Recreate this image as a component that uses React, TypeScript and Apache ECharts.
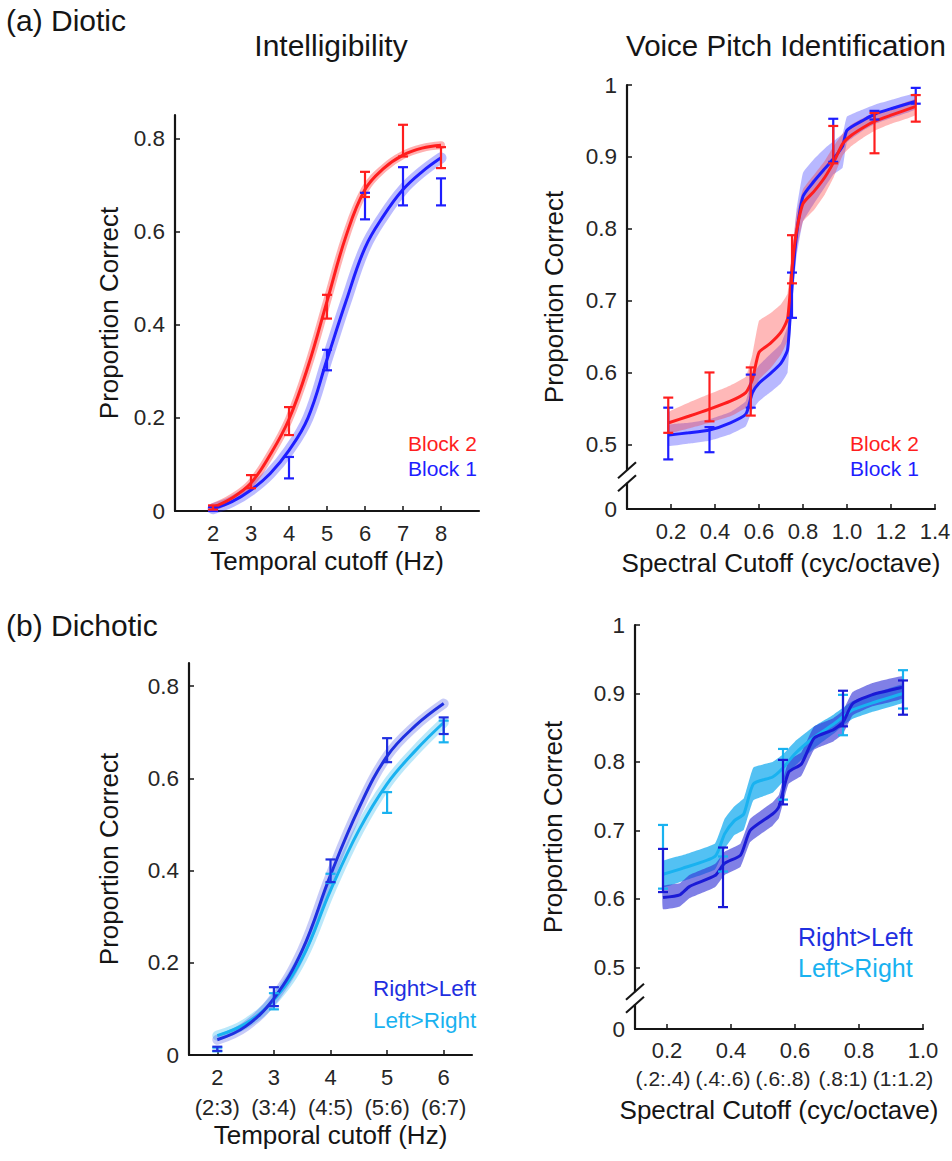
import React, { useEffect, useRef } from "react";
import * as echarts from "echarts";

// ---------- Panel (a) Intelligibility ----------
const P1_FIT_X = [2, 2.5, 3, 3.5, 4, 4.5, 5, 5.5, 6, 6.5, 7, 7.5, 8];
const P1_BLOCK2_FIT = [0.008, 0.028, 0.06, 0.12, 0.197, 0.31, 0.45, 0.59, 0.69, 0.736, 0.764, 0.779, 0.785];
const P1_BLOCK1_FIT = [0.005, 0.02, 0.045, 0.08, 0.13, 0.2, 0.325, 0.45, 0.565, 0.635, 0.69, 0.728, 0.758];
// [x, low, high]
const P1_BLOCK2_ERR = [[2, 0.003, 0.012], [3, 0.049, 0.077], [4, 0.163, 0.223], [5, 0.413, 0.464], [6, 0.674, 0.728], [7, 0.761, 0.829], [8, 0.736, 0.781]];
const P1_BLOCK1_ERR = [[2, 0.0, 0.008], [4, 0.07, 0.116], [5, 0.302, 0.346], [6, 0.626, 0.683], [7, 0.656, 0.738], [8, 0.656, 0.714]];
const P1_X_TICKS = [2, 3, 4, 5, 6, 7, 8];
const P1_Y_TICKS = [0, 0.2, 0.4, 0.6, 0.8];

// ---------- Panel (a) Voice Pitch Identification ----------
const P2_RED_X = [0.19, 0.28, 0.375, 0.47, 0.54, 0.57, 0.6, 0.65, 0.7, 0.73, 0.75, 0.77, 0.8, 0.85, 0.9, 0.94, 0.98, 1.02, 1.08, 1.13, 1.2, 1.31];
const P2_RED = [0.53, 0.539, 0.549, 0.56, 0.572, 0.59, 0.628, 0.64, 0.656, 0.675, 0.745, 0.795, 0.835, 0.852, 0.872, 0.893, 0.918, 0.93, 0.942, 0.95, 0.958, 0.97];
const P2_RED_HI = [0.545, 0.558, 0.57, 0.582, 0.594, 0.625, 0.672, 0.682, 0.695, 0.71, 0.77, 0.82, 0.855, 0.875, 0.895, 0.915, 0.932, 0.945, 0.955, 0.962, 0.968, 0.98];
const P2_RED_LO = [0.516, 0.522, 0.53, 0.539, 0.551, 0.565, 0.59, 0.605, 0.625, 0.645, 0.72, 0.77, 0.81, 0.826, 0.848, 0.872, 0.902, 0.915, 0.928, 0.937, 0.946, 0.958];
const P2_BLUE_X = [0.19, 0.28, 0.375, 0.47, 0.54, 0.57, 0.6, 0.65, 0.7, 0.73, 0.75, 0.77, 0.8, 0.85, 0.9, 0.94, 0.98, 1.0, 1.08, 1.13, 1.2, 1.31];
const P2_BLUE = [0.513, 0.516, 0.52, 0.53, 0.542, 0.572, 0.585, 0.598, 0.613, 0.632, 0.72, 0.79, 0.845, 0.866, 0.884, 0.898, 0.915, 0.937, 0.952, 0.96, 0.967, 0.977];
const P2_BLUE_HI = [0.527, 0.53, 0.535, 0.545, 0.56, 0.595, 0.61, 0.625, 0.64, 0.665, 0.75, 0.825, 0.878, 0.897, 0.912, 0.922, 0.932, 0.956, 0.967, 0.973, 0.979, 0.988];
const P2_BLUE_LO = [0.498, 0.501, 0.505, 0.514, 0.525, 0.548, 0.56, 0.572, 0.585, 0.6, 0.69, 0.76, 0.81, 0.835, 0.858, 0.876, 0.885, 0.92, 0.938, 0.946, 0.954, 0.966];
const P2_RED_ERR = [[0.1875, 0.516, 0.565], [0.375, 0.532, 0.6], [0.5625, 0.54, 0.607], [0.75, 0.724, 0.791], [0.9375, 0.891, 0.943], [1.125, 0.905, 0.961], [1.3125, 0.949, 0.986]];
const P2_BLUE_ERR = [[0.1875, 0.479, 0.551], [0.375, 0.489, 0.524], [0.5625, 0.551, 0.597], [0.75, 0.676, 0.739], [0.9375, 0.893, 0.953], [1.125, 0.952, 0.964], [1.3125, 0.974, 0.996]];
const P2_X_TICKS = [0.2, 0.4, 0.6, 0.8, 1.0, 1.2, 1.4];
const BROKEN_Y_TICKS = [0.41, 0.5, 0.6, 0.7, 0.8, 0.9, 1.0];

// ---------- Panel (b) Intelligibility ----------
const P3_FIT_X = [2, 2.5, 3, 3.5, 4, 4.5, 5, 5.5, 6];
const P3_RL_FIT = [0.033, 0.062, 0.123, 0.227, 0.39, 0.535, 0.648, 0.714, 0.762];
const P3_LR_FIT = [0.042, 0.068, 0.12, 0.21, 0.357, 0.487, 0.588, 0.66, 0.721];
const P3_RL_ERR = [[2, 0.009, 0.018], [3, 0.106, 0.147], [4, 0.375, 0.424], [5, 0.635, 0.687], [6, 0.696, 0.732]];
const P3_LR_ERR = [[2, 0.008, 0.016], [3, 0.099, 0.134], [4, 0.373, 0.393], [5, 0.525, 0.57], [6, 0.678, 0.725]];
const P3_X_TICKS = [2, 3, 4, 5, 6];
const P3_X_BANDS = ["(2:3)", "(3:4)", "(4:5)", "(5:6)", "(6:7)"];
const P3_Y_TICKS = [0, 0.2, 0.4, 0.6, 0.8];

// ---------- Panel (b) Voice Pitch Identification ----------
const P4_RL_X = [0.1875, 0.24, 0.27, 0.35, 0.38, 0.43, 0.46, 0.53, 0.55, 0.58, 0.62, 0.66, 0.72, 0.75, 0.78, 0.84, 0.9375];
const P4_RL = [0.602, 0.606, 0.618, 0.634, 0.652, 0.664, 0.7, 0.724, 0.735, 0.785, 0.797, 0.835, 0.847, 0.858, 0.885, 0.898, 0.909];
const P4_RL_HI = [0.619, 0.623, 0.635, 0.651, 0.669, 0.681, 0.717, 0.741, 0.752, 0.802, 0.814, 0.852, 0.864, 0.875, 0.902, 0.915, 0.925];
const P4_RL_LO = [0.585, 0.589, 0.601, 0.617, 0.635, 0.647, 0.683, 0.707, 0.718, 0.768, 0.78, 0.818, 0.83, 0.841, 0.868, 0.881, 0.893];
const P4_LR_X = [0.1875, 0.25, 0.35, 0.38, 0.41, 0.44, 0.47, 0.53, 0.56, 0.6, 0.66, 0.72, 0.75, 0.78, 0.84, 0.9375];
const P4_LR = [0.636, 0.645, 0.662, 0.695, 0.714, 0.724, 0.768, 0.778, 0.79, 0.812, 0.836, 0.855, 0.866, 0.876, 0.886, 0.9];
const P4_LR_HI = [0.655, 0.664, 0.681, 0.717, 0.735, 0.747, 0.792, 0.8, 0.81, 0.83, 0.852, 0.869, 0.879, 0.889, 0.899, 0.913];
const P4_LR_LO = [0.617, 0.626, 0.643, 0.673, 0.693, 0.701, 0.744, 0.755, 0.77, 0.794, 0.82, 0.841, 0.853, 0.863, 0.873, 0.887];
const P4_RL_ERR = [[0.1875, 0.61, 0.673], [0.375, 0.588, 0.675], [0.5625, 0.738, 0.803], [0.75, 0.852, 0.904], [0.9375, 0.869, 0.919]];
const P4_LR_ERR = [[0.1875, 0.615, 0.708], [0.375, 0.64, 0.662], [0.5625, 0.745, 0.819], [0.75, 0.839, 0.898], [0.9375, 0.878, 0.934]];
const P4_X_TICKS = [0.2, 0.4, 0.6, 0.8, 1.0];
const P4_BIN_X = [0.1875, 0.375, 0.5625, 0.75, 0.9375];
const P4_BIN_LABELS = ["(.2:.4)", "(.4:.6)", "(.6:.8)", "(.8:1)", "(1:1.2)"];

const FONT = "'Liberation Sans', Arial, Helvetica, sans-serif";
const RED = "#ff1e1e";
const BLUE = "#1e1eff";
const DARK = "#1f2fe0";
const CYAN = "#19b2f0";
const AXIS = "#151515";
const LABEL = "#262626";

const zip = (xs: number[], ys: number[]) => xs.map((x, i) => [x, ys[i]]);

function fitSeries(name: string, xs: number[], ys: number[], color: string, halo: number, haloOp: number, idx: number) {
  return [
    { type: "line", name: name + " band", xAxisIndex: idx, yAxisIndex: idx, data: zip(xs, ys), smooth: 0.4, symbol: "none", silent: true, lineStyle: { color, width: halo, opacity: haloOp, cap: "round" }, z: 1 },
    { type: "line", name, xAxisIndex: idx, yAxisIndex: idx, data: zip(xs, ys), smooth: 0.4, symbol: "none", lineStyle: { color, width: 3 }, z: 3 },
  ];
}

function lineSeries(name: string, xs: number[], ys: number[], color: string, idx: number) {
  return { type: "line", name, xAxisIndex: idx, yAxisIndex: idx, data: zip(xs, ys), smooth: 0.2, symbol: "none", lineStyle: { color, width: 3 }, z: 3 };
}

function bandSeries(xs: number[], lo: number[], hi: number[], fill: string, idx: number, z: number) {
  return {
    type: "custom", xAxisIndex: idx, yAxisIndex: idx, silent: true, z,
    data: [[xs[0], lo[0]]],
    renderItem: (_p: any, api: any) => {
      const pts = xs.map((x, i) => api.coord([x, hi[i]]));
      for (let i = xs.length - 1; i >= 0; i--) pts.push(api.coord([xs[i], lo[i]]));
      return { type: "polygon", shape: { points: pts, smooth: 0.1 }, style: { fill, stroke: null } };
    },
  };
}

function errSeries(items: number[][], color: string, idx: number, z = 6) {
  return {
    type: "custom", xAxisIndex: idx, yAxisIndex: idx, z, silent: true,
    data: items, encode: { x: 0, y: [1, 2] },
    renderItem: (_p: any, api: any) => {
      const x = api.value(0), lo = api.value(1), hi = api.value(2);
      const a = api.coord([x, hi]);
      const b = api.coord([x, lo]);
      const st = { stroke: color, lineWidth: 2.2, fill: null };
      const c = 5;
      return {
        type: "group",
        children: [
          { type: "line", shape: { x1: a[0], y1: a[1], x2: b[0], y2: b[1] }, style: st },
          { type: "line", shape: { x1: a[0] - c, y1: a[1], x2: a[0] + c, y2: a[1] }, style: st },
          { type: "line", shape: { x1: b[0] - c, y1: b[1], x2: b[0] + c, y2: b[1] }, style: st },
        ],
      };
    },
  };
}

function xAxisCfg(grid: number, min: number, max: number, ticks: number[], fmt: (v: number) => string, name: string, nameGap: number, margin: number, lineHeight?: number) {
  return {
    type: "value", gridIndex: grid, min, max, position: "bottom",
    name, nameLocation: "middle", nameGap, nameMoveOverlap: false,
    nameTextStyle: { fontSize: 26, color: AXIS, fontFamily: FONT },
    axisLine: { show: true, onZero: false, lineStyle: { color: AXIS, width: 2.2 } },
    axisTick: { show: true, inside: true, length: 5, customValues: ticks, lineStyle: { color: AXIS, width: 1.5 } },
    axisLabel: { customValues: ticks, formatter: fmt, color: LABEL, fontSize: 22, fontFamily: FONT, margin, lineHeight },
    splitLine: { show: false },
  };
}

function yAxisCfg(grid: number, min: number, max: number, ticks: number[], fmt: (v: number) => string, nameGap: number) {
  return {
    type: "value", gridIndex: grid, min, max,
    name: "Proportion Correct", nameLocation: "middle", nameGap, nameMoveOverlap: false,
    nameTextStyle: { fontSize: 26, color: AXIS, fontFamily: FONT },
    axisLine: { show: true, lineStyle: { color: AXIS, width: 2.2 } },
    axisTick: { show: true, inside: true, length: 5, customValues: ticks, lineStyle: { color: AXIS, width: 1.5 } },
    axisLabel: { customValues: ticks, formatter: fmt, color: LABEL, fontSize: 22.5, fontFamily: FONT, margin: 10 },
    splitLine: { show: false },
  };
}

const fmtPlain = (v: number) => (Math.abs(v) < 1e-9 ? "0" : String(Math.round(v * 10) / 10));
const fmtFixed1 = (v: number) => v.toFixed(1);
const fmtBroken = (v: number) => (v < 0.45 ? "0" : v >= 0.999 ? "1" : v.toFixed(1));

function text(t: string, x: number, y: number, fill: string, size: number, align = "left") {
  return { type: "text", x, y, z: 20, style: { text: t, fill, fontSize: size, fontFamily: FONT, align, verticalAlign: "middle" } };
}

export default function App() {
  const ref = useRef<HTMLDivElement>(null);
  useEffect(() => {
    document.body.style.margin = "0";
    if (!ref.current) return;
    const chart = echarts.init(ref.current, undefined, { renderer: "svg" });
    const option: any = {
      animation: false,
      backgroundColor: "#ffffff",
      grid: [
        { left: 175, top: 115, width: 304, height: 396, outerBoundsMode: "none" },
        { left: 627, top: 85, width: 308, height: 424, outerBoundsMode: "none" },
        { left: 189, top: 663, width: 283, height: 392, outerBoundsMode: "none" },
        { left: 635, top: 625, width: 288, height: 404, outerBoundsMode: "none" },
      ],
      xAxis: [
        xAxisCfg(0, 1, 9, P1_X_TICKS, fmtPlain, "Temporal cutoff (Hz)", 37, 11),
        xAxisCfg(1, 0, 1.4, P2_X_TICKS, fmtFixed1, "Spectral Cutoff (cyc/octave)", 41, 11),
        xAxisCfg(2, 1.5, 6.5, P3_X_TICKS, (v: number) => `${v}\n${P3_X_BANDS[P3_X_TICKS.indexOf(Math.round(v))]}`, "Temporal cutoff (Hz)", 67, 7, 30),
        xAxisCfg(3, 0.1, 1.0, P4_X_TICKS, fmtFixed1, "Spectral Cutoff (cyc/octave)", 68, 10),
        {
          type: "value", gridIndex: 3, min: 0.1, max: 1.0, position: "bottom",
          axisLine: { show: false }, axisTick: { show: false }, splitLine: { show: false },
          axisLabel: {
            customValues: P4_BIN_X, color: LABEL, fontSize: 21, fontFamily: FONT, margin: 39,
            formatter: (v: number) => {
              const i = P4_BIN_X.findIndex((b) => Math.abs(b - v) < 1e-6);
              return i >= 0 ? P4_BIN_LABELS[i] : "";
            },
          },
        },
      ],
      yAxis: [
        yAxisCfg(0, 0, 0.85, P1_Y_TICKS, fmtPlain, 53),
        yAxisCfg(1, 0.41, 1.0, BROKEN_Y_TICKS, fmtBroken, 60),
        yAxisCfg(2, 0, 0.85, P3_Y_TICKS, fmtPlain, 67),
        yAxisCfg(3, 0.41, 1.0, BROKEN_Y_TICKS, fmtBroken, 69),
      ],
      series: [
        // Panel 1
        ...fitSeries("Block 1", P1_FIT_X, P1_BLOCK1_FIT, BLUE, 11, 0.3, 0),
        ...fitSeries("Block 2", P1_FIT_X, P1_BLOCK2_FIT, RED, 8, 0.35, 0),
        errSeries(P1_BLOCK1_ERR, BLUE, 0),
        errSeries(P1_BLOCK2_ERR, RED, 0, 7),
        // Panel 2
        bandSeries(P2_BLUE_X, P2_BLUE_LO, P2_BLUE_HI, "rgba(40,40,255,0.33)", 1, 1),
        bandSeries(P2_RED_X, P2_RED_LO, P2_RED_HI, "rgba(255,40,40,0.33)", 1, 2),
        lineSeries("Block 1", P2_BLUE_X, P2_BLUE, BLUE, 1),
        lineSeries("Block 2", P2_RED_X, P2_RED, RED, 1),
        errSeries(P2_BLUE_ERR, BLUE, 1),
        errSeries(P2_RED_ERR, RED, 1, 7),
        // Panel 3
        ...fitSeries("Left>Right", P3_FIT_X, P3_LR_FIT, CYAN, 10, 0.3, 2),
        ...fitSeries("Right>Left", P3_FIT_X, P3_RL_FIT, DARK, 10, 0.25, 2),
        errSeries(P3_LR_ERR, CYAN, 2),
        errSeries(P3_RL_ERR, DARK, 2, 7),
        // Panel 4
        bandSeries(P4_LR_X, P4_LR_LO, P4_LR_HI, "rgba(35,175,240,0.78)", 3, 1),
        bandSeries(P4_RL_X, P4_RL_LO, P4_RL_HI, "rgba(50,50,215,0.62)", 3, 2),
        lineSeries("Left>Right", P4_LR_X, P4_LR, CYAN, 3),
        lineSeries("Right>Left", P4_RL_X, P4_RL, "#1a1ad6", 3),
        errSeries(P4_LR_ERR, CYAN, 3),
        errSeries(P4_RL_ERR, "#1a1ad6", 3, 7),
      ],
    };
    chart.setOption(option);

    const brk = (xi: number, yi: number, xmin: number) => {
      const top = chart.convertToPixel({ xAxisIndex: xi, yAxisIndex: yi } as any, [xmin, 0.5]) as number[];
      const bot = chart.convertToPixel({ xAxisIndex: xi, yAxisIndex: yi } as any, [xmin, 0.41]) as number[];
      const ax = top[0];
      const m = (top[1] + bot[1]) / 2;
      const st = { stroke: AXIS, lineWidth: 2 };
      return [
        { type: "rect", z: 30, shape: { x: ax - 4, y: m - 6, width: 8, height: 12 }, style: { fill: "#ffffff" } },
        { type: "line", z: 31, shape: { x1: ax - 9, y1: m - 6.5 + 8, x2: ax + 9, y2: m - 6.5 - 8 }, style: st },
        { type: "line", z: 31, shape: { x1: ax - 9, y1: m + 6.5 + 8, x2: ax + 9, y2: m + 6.5 - 8 }, style: st },
      ];
    };

    chart.setOption({
      graphic: [
        text("(a) Diotic", 6, 20, AXIS, 30),
        text("Intelligibility", 331, 45, AXIS, 30, "center"),
        text("Voice Pitch Identification", 786, 45, AXIS, 29.5, "center"),
        text("(b) Dichotic", 6, 625, AXIS, 30),
        text("Block 2", 408, 443, RED, 21),
        text("Block 1", 408, 468, BLUE, 21),
        text("Block 2", 850, 443, RED, 21),
        text("Block 1", 850, 468, BLUE, 21),
        text("Right>Left", 373, 988, DARK, 22.5),
        text("Left>Right", 373, 1020, CYAN, 22.5),
        text("Right>Left", 798, 937, DARK, 25),
        text("Left>Right", 798, 968, CYAN, 25),
        ...brk(1, 1, 0),
        ...brk(3, 3, 0.1),
      ],
    });

    return () => chart.dispose();
  }, []);
  return <div ref={ref} style={{ width: 952, height: 1161 }} />;
}
